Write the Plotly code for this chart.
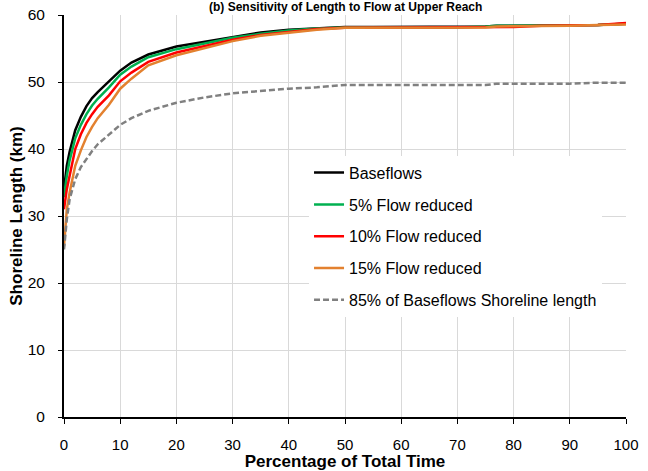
import plotly.graph_objects as go

# Percentage of total time (x values)
time_pct = [0, 0.5, 1, 2, 3, 4, 5, 6, 8, 10, 12, 15, 20, 25, 30, 35, 40, 45, 50,
            55, 60, 65, 70, 75, 77, 80, 85, 90, 95, 100]

baseflows = [34.0, 37.5, 39.6, 42.8, 44.8, 46.4, 47.6, 48.5, 50.1, 51.7, 52.9, 54.1,
             55.3, 56.0, 56.8, 57.4, 57.8, 58.0, 58.2, 58.2, 58.2, 58.2, 58.2, 58.3,
             58.4, 58.4, 58.4, 58.5, 58.5, 58.7]
flow_5 = [32.8, 36.0, 38.3, 41.6, 43.6, 45.2, 46.5, 47.5, 49.2, 51.1, 52.3, 53.7,
          54.9, 55.8, 56.6, 57.2, 57.7, 58.0, 58.15, 58.15, 58.15, 58.15, 58.15, 58.3,
          58.4, 58.4, 58.4, 58.5, 58.5, 58.7]
flow_10 = [31.0, 34.0, 36.0, 40.0, 42.2, 43.9, 45.2, 46.3, 48.0, 50.1, 51.4, 53.0,
           54.4, 55.4, 56.3, 57.0, 57.5, 57.9, 58.1, 58.1, 58.1, 58.1, 58.1, 58.15,
           58.2, 58.2, 58.4, 58.4, 58.5, 58.8]
flow_15 = [25.5, 31.0, 33.5, 37.5, 39.8, 41.8, 43.3, 44.6, 46.6, 49.0, 50.5, 52.5,
           54.0, 55.1, 56.1, 56.9, 57.4, 57.8, 58.1, 58.1, 58.1, 58.1, 58.1, 58.15,
           58.3, 58.3, 58.4, 58.4, 58.5, 58.6]
base85 = [25.0, 29.5, 32.5, 35.5, 37.3, 38.6, 39.7, 40.7, 42.2, 43.6, 44.6, 45.7,
          46.9, 47.7, 48.3, 48.7, 49.0, 49.2, 49.55, 49.55, 49.55, 49.55, 49.55, 49.55,
          49.75, 49.75, 49.75, 49.75, 49.9, 49.9]

series = [
    ("Baseflows", baseflows, "#000000", "solid"),
    ("5% Flow reduced", flow_5, "#00b050", "solid"),
    ("10% Flow reduced", flow_10, "#ff0000", "solid"),
    ("15% Flow reduced", flow_15, "#e3812f", "solid"),
    ("85% of Baseflows Shoreline length", base85, "#808080", "dash"),
]

FONT = "Liberation Sans, Arial, sans-serif"

fig = go.Figure()
for i, (name, vals, color, dash) in enumerate(series):
    fig.add_trace(go.Scatter(
        x=time_pct, y=vals, mode="lines", name=name, legendgroup=f"g{i}",
        line=dict(color=color, width=2.5, dash="6px,3px" if dash == "dash" else "solid"),
    ))

fig.add_annotation(
    text="<b>(b) Sensitivity of Length to Flow at Upper Reach</b>",
    xref="paper", yref="paper", x=0.5, y=1.0199, xanchor="center", yanchor="middle",
    showarrow=False, font=dict(family=FONT, size=12, color="#000000"),
)

fig.update_layout(
    width=648, height=471,
    margin=dict(l=64, r=22, t=15, b=54),
    paper_bgcolor="white", plot_bgcolor="white",
    font=dict(family=FONT, size=15, color="#000000"),
    showlegend=True,
    legend=dict(
        x=0.436, y=0.65, xanchor="left", yanchor="top",
        bgcolor="white", borderwidth=0,
        font=dict(family=FONT, size=16, color="#000000"),
        traceorder="grouped", tracegroupgap=8,
    ),
    xaxis=dict(
        range=[0, 100], dtick=10, tick0=0, automargin=False,
        showgrid=True, gridcolor="#d9d9d9", gridwidth=1,
        showline=True, linecolor="#000000", linewidth=2,
        ticks="outside", ticklen=5, tickcolor="#000000",
        zeroline=False, ticklabelstandoff=8,
        title=dict(text="<b>Percentage of Total Time</b>", font=dict(size=17), standoff=4),
        tickfont=dict(size=15),
    ),
    yaxis=dict(
        range=[0, 60], dtick=10, tick0=0, automargin=False,
        showgrid=True, gridcolor="#d9d9d9", gridwidth=1,
        showline=True, linecolor="#000000", linewidth=2,
        ticks="outside", ticklen=4, tickcolor="#000000",
        zeroline=False, ticklabelstandoff=10,
        title=dict(text="<b>Shoreline Length (km)</b>", font=dict(size=17), standoff=1),
        tickfont=dict(size=15.5),
    ),
)

fig.write_html(
    "out.html",
    config={"displayModeBar": False},
    post_script="document.body.style.margin='0px';document.body.style.padding='0px';",
)
